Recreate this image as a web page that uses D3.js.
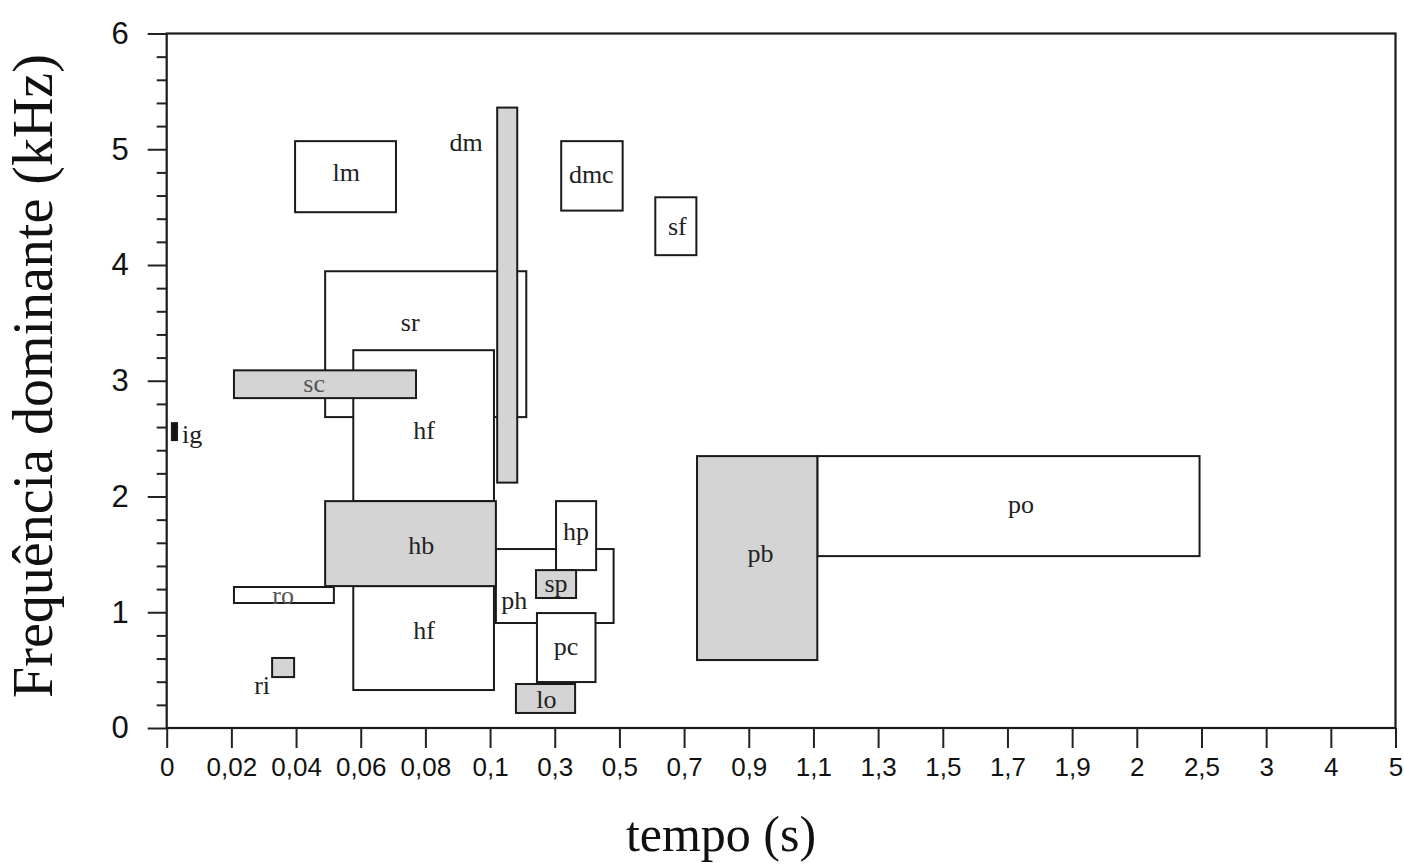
<!DOCTYPE html>
<html lang="pt">
<head>
<meta charset="UTF-8">
<title>Frequência dominante x tempo</title>
<script src="https://cdn.jsdelivr.net/npm/d3@7"></script>
<style>
  body { margin: 0; background: #fff; }
  .tick-label { font-family: "Liberation Sans", Arial, sans-serif; fill: #111; }
  .box-label { font-family: "Liberation Serif", "Times New Roman", serif; font-size: 26px; fill: #222; }
  .axis-title { font-family: "Liberation Serif", "Times New Roman", serif; fill: #111; }
</style>
</head>
<body>
<script>
// tick values of the broken time axis (evenly spaced on screen)
const timeTicks = [0, 0.02, 0.04, 0.06, 0.08, 0.1, 0.3, 0.5, 0.7, 0.9, 1.1, 1.3, 1.5, 1.7, 1.9, 2, 2.5, 3, 4, 5]
const freqTicks = [0, 1, 2, 3, 4, 5, 6]

// one entry per box, in drawing order
const boxNames = ['sr', 'hf', 'hf', 'lm', 'dmc', 'sf', 'ph', 'hp', 'pc', 'po', 'ro',
                  'sc', 'hb', 'dm', 'sp', 'lo', 'pb', 'ri', 'ig']
const tStart = [0.049, 0.0577, 0.0577, 0.0397, 0.32, 0.611, 0.118, 0.304, 0.245, 1.112, 0.0208,
                0.0208, 0.049, 0.122, 0.242, 0.18, 0.74, 0.0326, 0.0016]
const tEnd   = [0.212, 0.112, 0.112, 0.0709, 0.51, 0.738, 0.482, 0.428, 0.426, 2.485, 0.0517,
                0.0771, 0.118, 0.184, 0.366, 0.363, 1.112, 0.0394, 0.0032]
const fLow   = [2.686, 1.96, 0.328, 4.456, 4.47, 4.085, 0.907, 1.364, 0.397, 1.485, 1.08,
                2.85, 1.226, 2.12, 1.123, 0.13, 0.587, 0.44, 2.487]
const fHigh  = [3.946, 3.264, 1.226, 5.07, 5.07, 4.585, 1.546, 1.96, 0.993, 2.349, 1.218,
                3.09, 1.96, 5.36, 1.364, 0.38, 2.349, 0.605, 2.634]
// 0 = open, 1 = shaded, 2 = solid
const shade  = [0, 0, 0, 0, 0, 0, 0, 0, 0, 0, 0,
                1, 1, 1, 1, 1, 1, 1, 2]

// label anchors (time, frequency)
const labelNames = ['lm', 'dm', 'dmc', 'sf', 'sr', 'sc', 'hf', 'ig', 'hb', 'po', 'hp', 'pb', 'sp', 'ro', 'ph', 'hf', 'pc', 'ri', 'lo']
const labelT = [0.0555, 0.0926, 0.413, 0.679, 0.0753, 0.0456, 0.0796, 0.0078, 0.0787, 1.742, 0.366, 0.936, 0.304, 0.036, 0.175, 0.0796, 0.335, 0.0295, 0.274]
const labelF = [4.80, 5.06, 4.78, 4.335, 3.506, 2.98, 2.573, 2.539, 1.58, 1.934, 1.70, 1.511, 1.252, 1.149, 1.105, 0.846, 0.70, 0.371, 0.242]

const width = 1404
const height = 865
const plotLeft = 166.7, plotRight = 1395.5, plotTop = 33.5, plotBottom = 728

const step = (plotRight - plotLeft) / (timeTicks.length - 1)
const x = d3.scaleLinear()
  .domain(timeTicks)
  .range(timeTicks.map((d, i) => plotLeft + i * step))

const y = d3.scaleLinear()
  .domain([0, 6])
  .range([plotBottom, plotTop])

const svg = d3.select('body').append('svg')
  .attr('width', width)
  .attr('height', height)

const fills = ['#ffffff', '#d4d4d4', '#111111']

const boxes = boxNames.map((name, i) => ({
  name, t0: tStart[i], t1: tEnd[i], f0: fLow[i], f1: fHigh[i], s: shade[i]
}))

svg.append('g')
  .selectAll('rect')
  .data(boxes)
  .enter()
  .append('rect')
  .attr('x', d => x(d.t0))
  .attr('y', d => y(d.f1))
  .attr('width', d => x(d.t1) - x(d.t0))
  .attr('height', d => y(d.f0) - y(d.f1))
  .attr('fill', d => fills[d.s])
  .attr('stroke', '#1a1a1a')
  .attr('stroke-width', 2)

svg.append('g')
  .selectAll('text')
  .data(labelNames)
  .enter()
  .append('text')
  .attr('class', 'box-label')
  .attr('x', (d, i) => x(labelT[i]))
  .attr('y', (d, i) => y(labelF[i]))
  .attr('text-anchor', (d) => d === 'ig' ? 'start' : 'middle')
  .attr('dominant-baseline', 'central')
  .style('fill', d => (d === 'sc' || d === 'ro') ? '#555' : null)
  .attr('dx', d => d === 'ig' ? -10 : 0)
  .text(d => d)

// frame
svg.append('rect')
  .attr('x', plotLeft)
  .attr('y', plotTop)
  .attr('width', plotRight - plotLeft)
  .attr('height', plotBottom - plotTop)
  .attr('fill', 'none')
  .attr('stroke', '#1a1a1a')
  .attr('stroke-width', 2.2)

// x axis
const xAxis = d3.axisBottom(x)
  .tickValues(timeTicks)
  .tickSize(20)
  .tickPadding(10)
  .tickFormat(d => String(d).replace('.', ','))

const gx = svg.append('g')
  .attr('transform', `translate(0,${plotBottom})`)
  .call(xAxis)
gx.select('.domain').remove()
gx.selectAll('line').attr('stroke', '#222').attr('stroke-width', 2)
gx.selectAll('text')
  .attr('class', 'tick-label')
  .style('font-size', '26px')

// y axis, minor ticks then major
const gyMinor = svg.append('g')
  .attr('transform', `translate(${plotLeft},0)`)
  .call(d3.axisLeft(y).tickValues(d3.range(0, 30).map(i => i * 0.2).filter((d, i) => i % 5 !== 0)).tickSize(10).tickFormat(''))
gyMinor.select('.domain').remove()
gyMinor.selectAll('line').attr('stroke', '#222').attr('stroke-width', 2)

const gy = svg.append('g')
  .attr('transform', `translate(${plotLeft},0)`)
  .call(d3.axisLeft(y).tickValues(freqTicks).tickSize(19).tickPadding(19).tickFormat(d3.format('d')))
gy.select('.domain').remove()
gy.selectAll('line').attr('stroke', '#222').attr('stroke-width', 2)
gy.selectAll('text')
  .attr('class', 'tick-label')
  .style('font-size', '31px')

// axis titles
svg.append('text')
  .attr('class', 'axis-title')
  .attr('x', 721)
  .attr('y', 851)
  .attr('text-anchor', 'middle')
  .style('font-size', '50px')
  .text('tempo (s)')

svg.append('text')
  .attr('class', 'axis-title')
  .attr('transform', 'translate(52,376) rotate(-90)')
  .attr('text-anchor', 'middle')
  .style('font-size', '56px')
  .text('Frequência dominante (kHz)')
</script>
</body>
</html>
